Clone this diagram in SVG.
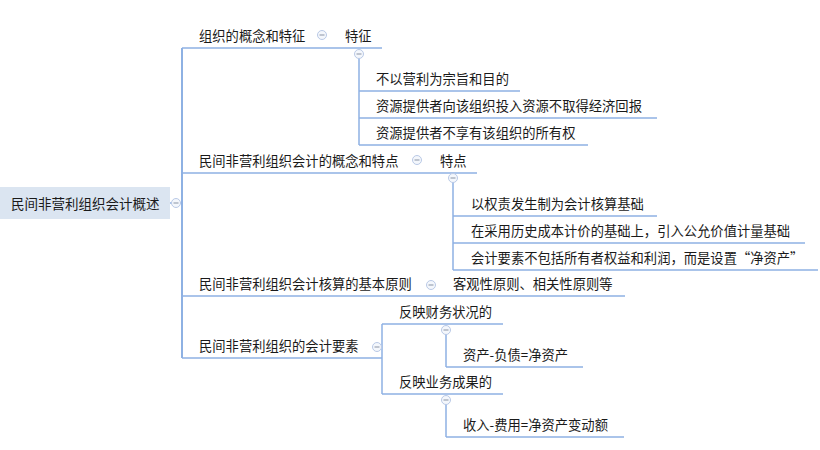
<svg xmlns="http://www.w3.org/2000/svg" width="820" height="450" viewBox="0 0 820 450">
<style>
text{font-family:"Microsoft YaHei","Noto Sans CJK SC","Noto Sans",sans-serif;font-size:13.3px;fill:#1a1a1a}
.l{stroke:#8eb1e3;stroke-width:1.5;fill:none}
.m{stroke:#8eb1e3;stroke-width:2;fill:none}
.c{fill:#f4f7fc;stroke:#b9c9e6;stroke-width:1}
.cm{stroke:#9aa3b3;stroke-width:1.2}
</style>
<defs>
<g id="col"><circle class="c" cx="0" cy="0" r="4.5"/><line class="cm" x1="-2.5" y1="0" x2="2.5" y2="0"/></g>
</defs>
<rect width="820" height="450" fill="#ffffff"/>
<g id="connectors">
<line class="m" x1="182" y1="48" x2="182" y2="358"/>
<line class="l" x1="170" y1="203" x2="182" y2="203"/>
<line class="l" x1="182" y1="48" x2="382" y2="48"/>
<line class="l" x1="359" y1="54" x2="359" y2="145"/>
<line class="l" x1="359" y1="91" x2="520" y2="91"/>
<line class="l" x1="359" y1="118" x2="657" y2="118"/>
<line class="l" x1="359" y1="145" x2="588" y2="145"/>
<line class="l" x1="182" y1="173" x2="477" y2="173"/>
<line class="l" x1="453" y1="178" x2="453" y2="270"/>
<line class="l" x1="453" y1="216" x2="657" y2="216"/>
<line class="l" x1="453" y1="243" x2="805" y2="243"/>
<line class="l" x1="453" y1="270" x2="818" y2="270"/>
<line class="l" x1="182" y1="296" x2="625" y2="296"/>
<line class="l" x1="182" y1="358" x2="382" y2="358"/>
<line class="l" x1="382" y1="324" x2="382" y2="394"/>
<line class="l" x1="382" y1="324" x2="503" y2="324"/>
<line class="l" x1="382" y1="394" x2="503" y2="394"/>
<line class="l" x1="446" y1="330" x2="446" y2="367"/>
<line class="l" x1="446" y1="367" x2="583" y2="367"/>
<line class="l" x1="446" y1="400" x2="446" y2="437"/>
<line class="l" x1="446" y1="437" x2="624" y2="437"/>
</g>
<g id="root">
<rect x="0" y="187" width="170" height="32" fill="#dbe5f1"/>
<text x="11" y="209" style="font-size:13.5px">民间非营利组织会计概述</text>
<use href="#col" x="176" y="203"/>
</g>
<g id="n1"><text x="199" y="41">组织的概念和特征</text><use href="#col" x="322" y="35"/></g>
<g id="n1a"><text x="345" y="41">特征</text><use href="#col" x="359" y="54"/></g>
<g id="n1a1"><text x="376" y="84">不以营利为宗旨和目的</text></g>
<g id="n1a2"><text x="376" y="111">资源提供者向该组织投入资源不取得经济回报</text></g>
<g id="n1a3"><text x="376" y="138">资源提供者不享有该组织的所有权</text></g>
<g id="n2"><text x="199" y="166">民间非营利组织会计的概念和特点</text><use href="#col" x="417" y="160"/></g>
<g id="n2a"><text x="440" y="166">特点</text><use href="#col" x="453" y="178"/></g>
<g id="n2a1"><text x="471" y="209">以权责发生制为会计核算基础</text></g>
<g id="n2a2"><text x="471" y="236">在采用历史成本计价的基础上，引入公允价值计量基础</text></g>
<g id="n2a3"><text x="471" y="263">会计要素不包括所有者权益和利润，而是设置“净资产”</text></g>
<g id="n3"><text x="199" y="289">民间非营利组织会计核算的基本原则</text><use href="#col" x="431" y="285"/></g>
<g id="n3a"><text x="453" y="289">客观性原则、相关性原则等</text></g>
<g id="n4"><text x="199" y="351">民间非营利组织的会计要素</text><use href="#col" x="377" y="347"/></g>
<g id="n4a"><text x="399" y="317">反映财务状况的</text><use href="#col" x="446" y="330"/></g>
<g id="n4a1"><text x="463" y="360">资产-负债=净资产</text></g>
<g id="n4b"><text x="399" y="387">反映业务成果的</text><use href="#col" x="446" y="400"/></g>
<g id="n4b1"><text x="463" y="430">收入-费用=净资产变动额</text></g>
</svg>
